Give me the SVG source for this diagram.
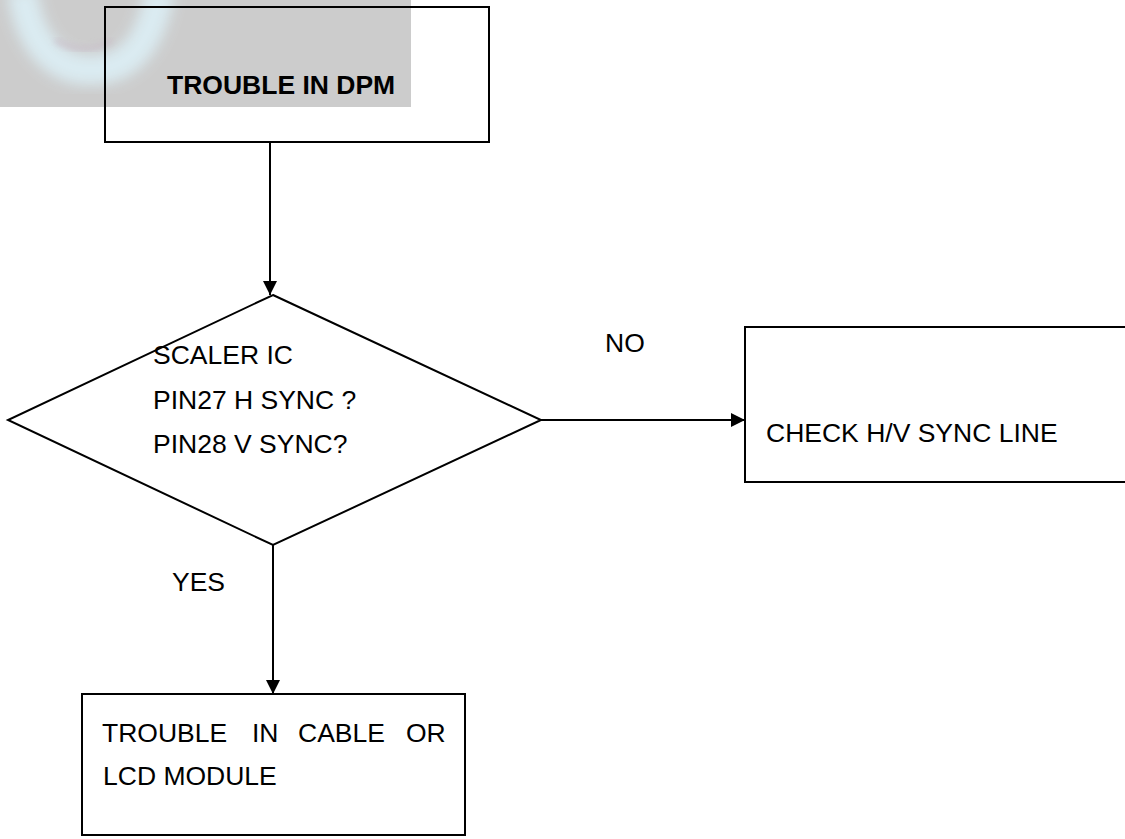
<svg xmlns="http://www.w3.org/2000/svg" width="1125" height="839" viewBox="0 0 1125 839">
<style>
.box{fill:none;stroke:#000;stroke-width:2}
.t{font-family:"Liberation Sans",Arial,sans-serif;font-size:26.5px;fill:#000}
.b{font-weight:bold}
.ln{stroke:#000;stroke-width:2;fill:none}
</style>
<defs>
<marker id="ah" markerWidth="14" markerHeight="14" refX="14" refY="7" orient="auto" markerUnits="userSpaceOnUse">
<path d="M0,0 L14,7 L0,14 Z" fill="#000"/>
</marker>
<filter id="blur" x="-30%" y="-30%" width="160%" height="160%">
<feGaussianBlur stdDeviation="7"/>
</filter>
<filter id="blur2" x="-30%" y="-30%" width="160%" height="160%">
<feGaussianBlur stdDeviation="3"/>
</filter>
</defs>
<rect width="1125" height="839" fill="#fff"/>
<g id="watermark">
<rect x="0" y="0" width="411" height="107" fill="#cccccc"/>
<path d="M22,-10 C30,50 60,70 90,70 C125,70 150,50 160,-10" fill="none" stroke="#ddf1f8" stroke-width="30" opacity="0.85" filter="url(#blur)"/>
<path d="M55,40 Q85,58 112,40" fill="none" stroke="#c6b4c2" stroke-width="5" opacity="0.55" filter="url(#blur2)"/>
</g>
<g id="connectors">
<line class="ln" x1="270" y1="142" x2="270" y2="295" marker-end="url(#ah)"/>
<line class="ln" x1="541" y1="420" x2="745" y2="420" marker-end="url(#ah)"/>
<line class="ln" x1="273" y1="545" x2="273" y2="694" marker-end="url(#ah)"/>
<text class="t" x="605" y="352">NO</text>
<text class="t" x="172" y="591">YES</text>
</g>
<g id="start">
<rect class="box" x="105" y="7" width="384" height="135"/>
<text class="t b" x="167" y="94">TROUBLE IN DPM</text>
</g>
<g id="decision">
<polygon class="box" points="273,295 541,420 273,545 8,420"/>
<text class="t" x="153" y="364">SCALER IC</text>
<text class="t" x="153" y="409">PIN27 H SYNC ?</text>
<text class="t" x="153" y="453">PIN28 V SYNC?</text>
</g>
<g id="check">
<rect class="box" x="745" y="327" width="382" height="155"/>
<text class="t" x="766" y="442">CHECK H/V SYNC LINE</text>
</g>
<g id="result">
<rect class="box" x="82" y="694" width="383" height="141"/>
<text class="t" y="742"><tspan x="102">TROUBLE</tspan><tspan x="252">IN</tspan><tspan x="298">CABLE</tspan><tspan x="406">OR</tspan></text>
<text class="t" x="103" y="785">LCD MODULE</text>
</g>
</svg>
